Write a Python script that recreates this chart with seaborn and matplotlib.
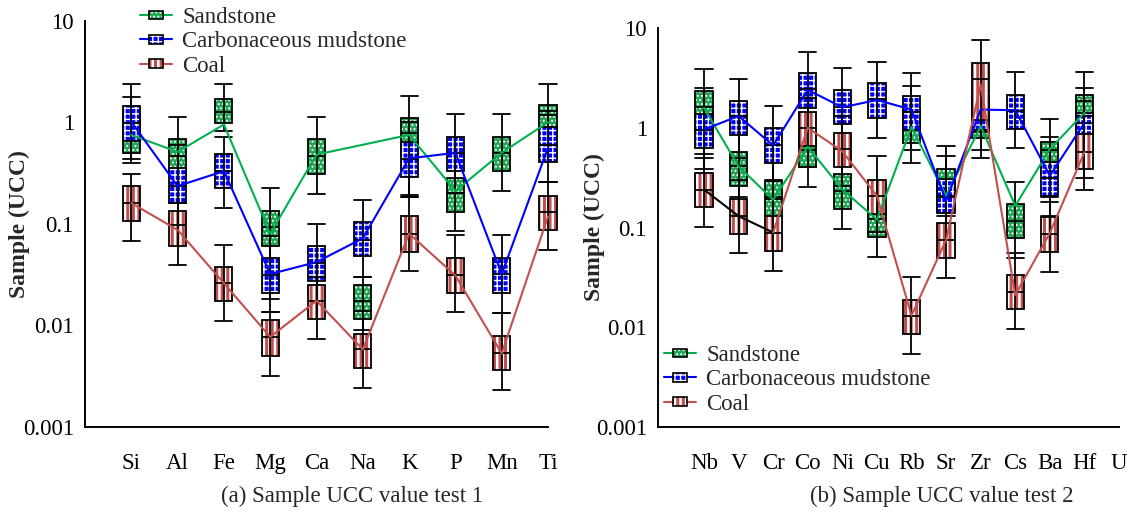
import matplotlib
matplotlib.use("Agg")
import numpy as np
import pandas as pd
import matplotlib.pyplot as plt
import seaborn as sns
from matplotlib.patches import PathPatch, Rectangle, Patch
from matplotlib.lines import Line2D
from matplotlib.legend_handler import HandlerBase
from matplotlib.ticker import FixedLocator, FixedFormatter, NullLocator

# ---------------- data ----------------
series = ["Sandstone", "Carbonaceous mudstone", "Coal"]

elements_a = ["Si", "Al", "Fe", "Mg", "Ca", "Na", "K", "P", "Mn", "Ti"]
# box statistics per element: (min, Q1, median, Q3, max)
sand_a = [(0.40, 0.495, 0.75, 1.20, 2.4), (0.25, 0.30, 0.47, 0.68, 1.13),
          (0.81, 0.98, 1.27, 1.68, 2.4), (0.0183, 0.061, 0.094, 0.135, 0.224),
          (0.198, 0.31, 0.47, 0.68, 1.13), (0.009, 0.0116, 0.0172, 0.0248, 0.030),
          (0.19, 0.45, 0.78, 1.09, 1.81), (0.084, 0.13, 0.203, 0.28, 0.45),
          (0.212, 0.334, 0.50, 0.72, 1.21), (0.60, 0.85, 1.18, 1.48, 2.4)]
mud_a = [(0.43, 0.66, 0.99, 1.45, 1.79), (0.11, 0.16, 0.237, 0.353, 0.60),
         (0.143, 0.224, 0.334, 0.49, 0.71), (0.0134, 0.021, 0.0316, 0.046, 0.075),
         (0.020, 0.0275, 0.041, 0.060, 0.10), (0.030, 0.0478, 0.070, 0.103, 0.172),
         (0.185, 0.29, 0.43, 0.64, 1.0), (0.20, 0.334, 0.50, 0.72, 1.21),
         (0.0132, 0.021, 0.032, 0.046, 0.077), (0.26, 0.41, 0.60, 0.906, 1.3)]
coal_a = [(0.068, 0.107, 0.16, 0.233, 0.31), (0.039, 0.061, 0.098, 0.135, 0.16),
          (0.011, 0.0172, 0.026, 0.0375, 0.062), (0.0032, 0.005, 0.0077, 0.0112, 0.0134),
          (0.0073, 0.0116, 0.0175, 0.0248, 0.030), (0.0024, 0.0038, 0.0058, 0.0083, 0.014),
          (0.034, 0.053, 0.080, 0.118, 0.185), (0.0134, 0.021, 0.0316, 0.046, 0.078),
          (0.0023, 0.0036, 0.0053, 0.0078, 0.0132), (0.055, 0.087, 0.13, 0.188, 0.26)]
# mean values joined by the lines (None = not joined)
sand_a_mean = [0.75, 0.51, 0.95, 0.080, 0.48, None, 0.75, 0.21, 0.50, 1.0]
mud_a_mean = [1.01, 0.235, 0.33, 0.032, 0.042, 0.072, 0.44, 0.50, 0.032, 0.56]
coal_a_mean = [0.16, 0.087, 0.026, 0.0077, 0.0175, 0.0058, 0.080, 0.031, 0.0053, 0.118]

elements_b = ["Nb", "V", "Cr", "Co", "Ni", "Cu", "Rb", "Sr", "Zr", "Cs", "Ba", "Hf", "U"]
sand_b = [(0.39, 0.90, 1.6, 2.32, 3.9), (0.20, 0.26, 0.41, 0.575, 1.0),
          (0.10, 0.131, 0.192, 0.292, 0.45), (0.257, 0.40, 0.60, 0.90, 1.4),
          (0.096, 0.152, 0.233, 0.34, 0.60), (0.051, 0.081, 0.121, 0.16, 0.25),
          (0.44, 0.70, 1.02, 1.5, 2.6), (0.10, 0.15, 0.207, 0.39, 0.52),
          (0.50, 0.79, 1.04, 1.6, 2.4), (0.049, 0.078, 0.117, 0.171, 0.286),
          (0.20, 0.35, 0.60, 0.72, 1.23), (0.316, 0.90, 1.85, 2.15, 3.63)]
mud_b = [(0.55, 0.62, 0.96, 1.36, 2.5), (0.50, 0.84, 1.31, 1.87, 3.1),
         (0.30, 0.447, 0.665, 1.0, 1.67), (1.2, 1.58, 2.42, 3.55, 5.8),
         (0.70, 1.08, 1.62, 2.38, 4.0), (0.79, 1.26, 1.92, 2.82, 4.6),
         (0.60, 0.96, 1.43, 2.1, 3.55), (0.13, 0.139, 0.207, 0.304, 0.656),
         (0.60, 0.96, 1.41, 2.07, 3.0), (0.62, 0.98, 1.47, 2.15, 3.63),
         (0.13, 0.207, 0.31, 0.45, 0.80), (0.50, 0.80, 1.12, 1.40, 2.5)]
coal_b = [(0.102, 0.161, 0.24, 0.355, 0.50), (0.055, 0.087, 0.131, 0.195, 0.30),
          (0.037, 0.0575, 0.089, 0.131, 0.20), (0.40, 0.66, 1.0, 1.43, 2.0),
          (0.26, 0.40, 0.61, 0.89, 1.3), (0.09, 0.136, 0.207, 0.30, 0.52),
          (0.0054, 0.0086, 0.0131, 0.0189, 0.0316), (0.031, 0.049, 0.075, 0.11, 0.20),
          (0.90, 1.2, 3.1, 4.5, 7.6), (0.0096, 0.0153, 0.0227, 0.0333, 0.056),
          (0.036, 0.057, 0.086, 0.126, 0.18), (0.24, 0.39, 0.575, 0.86, 1.3)]
sand_b_mean = [1.58, 0.41, 0.19, 0.645, 0.24, 0.12, 1.02, 0.207, 1.04, 0.165, 0.61, 1.41]
mud_b_mean = [0.96, 1.31, 0.665, 2.4, 1.6, 1.9, 1.52, 0.185, 1.52, 1.5, 0.33, 1.12]
coal_b_mean = [0.24, 0.13, 0.089, 1.0, 0.58, 0.207, 0.0131, 0.075, 2.7, 0.021, 0.088, 0.57]
coal_b_black_part = ["Nb", "V", "Cr"]   # first part of the coal line is drawn black

ytick_values = [0.001, 0.01, 0.1, 1, 10]
ytick_labels = ["0.001", "0.01", "0.1", "1", "10"]
titles = ["(a) Sample UCC value test 1", "(b) Sample UCC value test 2"]
ylabel = "Sample (UCC)"

# ---------------- style ----------------
fill_colors = {"Sandstone": "#1fa653", "Carbonaceous mudstone": "#0000ff", "Coal": "#c0504d"}
line_colors = {"Sandstone": "#00b050", "Carbonaceous mudstone": "#0000ff",
               "Coal": "#c0504d", "Coal start": "#000000"}
hatches = {"Sandstone": "....", "Carbonaceous mudstone": "+++", "Coal": "|||"}
hatch_lw = {"Sandstone": 0.9, "Carbonaceous mudstone": 1.0, "Coal": 1.8}

sns.set_theme(style="white")
plt.rcParams["font.family"] = ["Liberation Serif", "DejaVu Serif"]
plt.rcParams["axes.linewidth"] = 1.4
plt.rcParams["axes.edgecolor"] = "black"

W, H = 1133, 516
fig = plt.figure(figsize=(W / 100, H / 100), dpi=100)
ax_a = fig.add_axes([85 / W, 1 - 427 / H, (548 - 85) / W, (427 - 20.6) / H])
ax_b = fig.add_axes([658 / W, 1 - 427 / H, (1119 - 658) / W, (427 - 28) / H])


def add_boxes(ax, elements, stats_map, width):
    rows = [(el, s, v) for s in series
            for el, st in zip(elements, stats_map[s]) for v in st]
    df = pd.DataFrame(rows, columns=["element", "series", "value"])
    sns.boxplot(data=df, x="element", y="value", hue="series", order=elements,
                hue_order=series, palette=fill_colors, dodge=False, width=width,
                whis=(0, 100), showfliers=False, saturation=1, linecolor="black",
                linewidth=1.3, legend=False, ax=ax)
    for i, (s, cont) in enumerate(zip(series, ax.containers)):
        base = 2 + 0.1 * i
        for k, box in enumerate(cont.boxes):
            box.set_zorder(base)
            box.set_clip_on(False)
            box.set_edgecolor("none")
            path, tr = box.get_path(), box.get_transform()
            with plt.rc_context({"hatch.linewidth": hatch_lw[s]}):
                ov = PathPatch(path, transform=tr, facecolor="none", edgecolor="white",
                               linewidth=0, hatch=hatches[s], zorder=base + 0.02,
                               clip_on=False)
            if hasattr(ov, "set_hatch_linewidth"):
                ov.set_hatch_linewidth(hatch_lw[s])
            ax.add_artist(ov)
            ol = PathPatch(path, transform=tr, facecolor="none", edgecolor="black",
                           linewidth=1.3, zorder=base + 0.04, clip_on=False)
            ax.add_artist(ol)
            med = cont.medians[k]
            mv = med.get_ydata()[0]
            wl, wu = cont.whiskers[2 * k], cont.whiskers[2 * k + 1]
            wl.set_ydata([wl.get_ydata()[1], mv])
            wu.set_ydata([mv, wu.get_ydata()[1]])
            xs = path.vertices[:, 0]
            caps = cont.caps[2 * k:2 * k + 2]
            for cap in caps:
                cap.set_xdata([xs.min(), xs.max()])
            for art in (wl, wu, med, *caps):
                art.set_zorder(base + 0.05)
                art.set_clip_on(False)


def add_lines(ax, elements, means_map):
    rows = []
    for s, vals in means_map.items():
        for el, m in zip(elements, vals):
            if m is not None:
                rows.append((elements.index(el), s, m))
    df = pd.DataFrame(rows, columns=["pos", "series", "value"])
    n_before = len(ax.lines)
    sns.lineplot(data=df, x="pos", y="value", hue="series", hue_order=list(means_map),
                 palette=line_colors, estimator=None, sort=False, linewidth=1.5,
                 legend=False, ax=ax)
    for ln in ax.lines[n_before:]:
        ln.set_zorder(3)
        ln.set_clip_on(False)


def style_axis(ax, elements, xlim, ylab_x):
    ax.set_yscale("log")
    ax.set_ylim(0.001, 10)
    ax.set_xlim(*xlim)
    ax.yaxis.set_major_locator(FixedLocator(ytick_values))
    ax.yaxis.set_major_formatter(FixedFormatter(ytick_labels))
    ax.yaxis.set_minor_locator(NullLocator())
    ax.set_xticks(range(len(elements)))
    ax.set_xticklabels(elements)
    ax.xaxis.set_minor_locator(NullLocator())
    ax.tick_params(axis="both", direction="in", length=5, width=1.3, colors="black",
                   labelsize=16.5)
    ax.tick_params(axis="x", pad=19)
    ax.tick_params(axis="y", pad=8)
    for sp in ("top", "right"):
        ax.spines[sp].set_visible(False)
    ax.set_xlabel("")
    ax.set_ylabel(ylabel, fontsize=17, fontweight="bold")
    ax.yaxis.set_label_coords(ylab_x, 0.5)
    ax.grid(False)


class BoxLegendHandler(HandlerBase):
    def __init__(self, name):
        super().__init__()
        self.name = name

    def create_artists(self, legend, orig_handle, xdescent, ydescent, width, height,
                       fontsize, trans):
        yc = height / 2 - ydescent
        line = Line2D([-xdescent, width - xdescent], [yc, yc],
                      color=line_colors[self.name], lw=1.5, transform=trans)
        bw, bh = width * 0.43, height * 0.55
        x0 = width / 2 - bw / 2 - xdescent
        y0 = yc - bh / 2
        face = Rectangle((x0, y0), bw, bh, facecolor=fill_colors[self.name],
                         edgecolor="none", transform=trans)
        with plt.rc_context({"hatch.linewidth": hatch_lw[self.name]}):
            hat = Rectangle((x0, y0), bw, bh, facecolor="none", edgecolor="white", lw=0,
                            hatch=hatches[self.name], transform=trans)
        if hasattr(hat, "set_hatch_linewidth"):
            hat.set_hatch_linewidth(hatch_lw[self.name])
        edge = Rectangle((x0, y0), bw, bh, facecolor="none", edgecolor="black", lw=1.2,
                         transform=trans)
        return [line, face, hat, edge]


def add_legend(ax, anchor_px):
    handles = [Patch(label=s) for s in series]
    hmap = {h: BoxLegendHandler(s) for h, s in zip(handles, series)}
    ax.legend(handles=handles, labels=series, handler_map=hmap, loc="upper left",
              bbox_to_anchor=(anchor_px[0] / W, 1 - anchor_px[1] / H),
              bbox_transform=fig.transFigure, frameon=False, borderpad=0,
              borderaxespad=0, handlelength=1.4, handleheight=0.7, handletextpad=0.45,
              labelspacing=0.14, fontsize=16.5)


# ---------------- panel (a) ----------------
ax_a.set_yscale("log")
add_boxes(ax_a, elements_a, {"Sandstone": sand_a, "Carbonaceous mudstone": mud_a,
                             "Coal": coal_a}, 0.37)
add_lines(ax_a, elements_a, {"Sandstone": sand_a_mean, "Carbonaceous mudstone": mud_a_mean,
                             "Coal": coal_a_mean})
style_axis(ax_a, elements_a, (-1, 9), (30 - 85) / 463)
add_legend(ax_a, (140, 7))

# ---------------- panel (b) ----------------
ax_b.set_yscale("log")
add_boxes(ax_b, elements_b, {"Sandstone": sand_b, "Carbonaceous mudstone": mud_b,
                             "Coal": coal_b}, 0.5)
n_black = len(coal_b_black_part)
coal_start = [m if i < n_black else None for i, m in enumerate(coal_b_mean)]
coal_rest = [m if i >= n_black - 1 else None for i, m in enumerate(coal_b_mean)]
add_lines(ax_b, elements_b, {"Sandstone": sand_b_mean, "Carbonaceous mudstone": mud_b_mean,
                             "Coal start": coal_start, "Coal": coal_rest})
style_axis(ax_b, elements_b, (-1.33, 12.0), (605 - 658) / 461)
add_legend(ax_b, (664, 345))

fig.text(352 / W, 1 - 496 / H, titles[0], ha="center", va="center", fontsize=16.5)
fig.text(942 / W, 1 - 496 / H, titles[1], ha="center", va="center", fontsize=16.5)

fig.savefig("out.png", dpi=100)
